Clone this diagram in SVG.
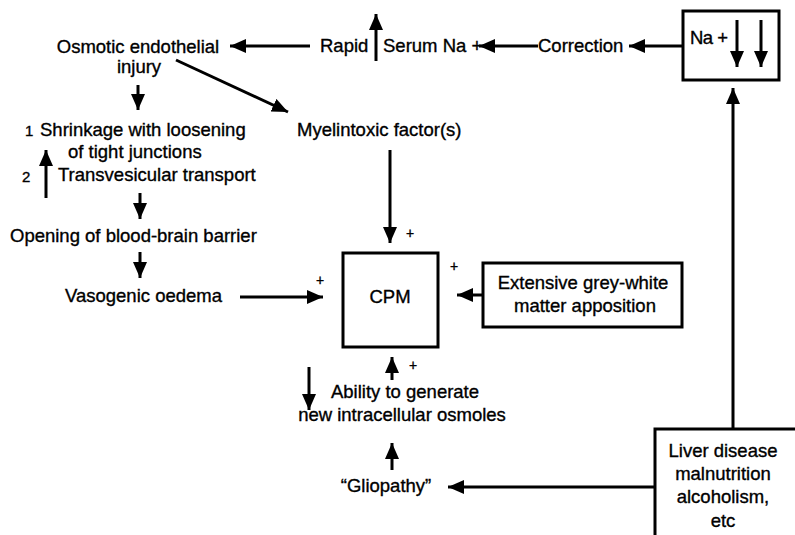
<svg xmlns="http://www.w3.org/2000/svg" width="795" height="535" viewBox="0 0 795 535">
<style>
text{font-family:"Liberation Sans",Arial,sans-serif;font-size:18.5px;fill:#000;stroke:#000;stroke-width:0.35}
.m{text-anchor:middle}
.s{font-size:15px}
.p{font-size:14px;text-anchor:middle}
.box{fill:#fff;stroke:#000;stroke-width:3}
.c line,line.c{stroke:#000;stroke-width:3;marker-end:url(#ah)}
</style>
<defs>
<marker id="ah" markerUnits="userSpaceOnUse" markerWidth="17" markerHeight="15" refX="16" refY="7" orient="auto" viewBox="0 0 17 15">
<path d="M0,0 L16,7 L0,14 z" fill="#000"/>
</marker>
</defs>
<rect width="795" height="535" fill="#fff"/>
<g class="c" id="connectors">
<line x1="310" y1="46" x2="230" y2="46"/>
<line x1="376" y1="61" x2="376" y2="14"/>
<line x1="538" y1="46" x2="479" y2="46"/>
<line x1="682" y1="46" x2="629" y2="46"/>
<line x1="733" y1="429" x2="733" y2="88"/>
<line x1="176" y1="60" x2="288" y2="112"/>
<line x1="138" y1="85" x2="138" y2="110"/>
<line x1="46" y1="198" x2="46" y2="150"/>
<line x1="140" y1="193" x2="140" y2="219"/>
<line x1="140" y1="252" x2="140" y2="278"/>
<line x1="240" y1="297" x2="323" y2="297"/>
<line x1="390" y1="150" x2="390" y2="243"/>
<line x1="483" y1="295" x2="457" y2="295"/>
<line x1="392" y1="380" x2="392" y2="357"/>
<line x1="309" y1="367" x2="309" y2="410"/>
<line x1="392" y1="470" x2="392" y2="443"/>
<line x1="655" y1="487" x2="448" y2="487"/>
</g>
<g id="osmotic"><text class="m" x="138" y="53">Osmotic endothelial</text><text class="m" x="139" y="73">injury</text></g>
<g id="rapid"><text x="320" y="52">Rapid</text></g>
<g id="serum"><text x="383" y="52">Serum Na +</text></g>
<g id="correction"><text x="538" y="52">Correction</text></g>
<g id="na-box"><rect class="box" x="683" y="11" width="96" height="69"/><text x="690" y="44" font-size="17" letter-spacing="-0.5">Na +</text>
<line class="c" x1="737" y1="20" x2="737" y2="67"/><line class="c" x1="761" y1="20" x2="761" y2="67"/></g>
<g id="shrinkage"><text x="25" y="136" class="s">1</text><text x="40" y="136">Shrinkage with loosening</text><text x="68" y="158">of tight junctions</text></g>
<g id="transvesicular"><text x="22" y="182" class="s">2</text><text x="58" y="181">Transvesicular transport</text></g>
<g id="opening"><text x="10" y="242">Opening of blood-brain barrier</text></g>
<g id="vasogenic"><text x="65" y="302">Vasogenic oedema</text></g>
<g id="myelintoxic"><text x="297" y="136">Myelintoxic factor(s)</text></g>
<g id="cpm"><rect class="box" x="343" y="253" width="95" height="94"/><text class="m" x="390" y="303">CPM</text></g>
<g id="plus-signs"><text class="p" x="320" y="285">+</text><text class="p" x="410" y="238">+</text><text class="p" x="454" y="271">+</text><text class="p" x="413" y="370">+</text></g>
<g id="extensive"><rect class="box" x="483" y="263" width="199" height="64"/><text class="m" x="583" y="289">Extensive grey-white</text><text class="m" x="585" y="312">matter apposition</text></g>
<g id="ability"><text class="m" x="405" y="398">Ability to generate</text><text class="m" x="402" y="421">new intracellular osmoles</text></g>
<g id="gliopathy"><text class="m" x="386" y="492">“Gliopathy”</text></g>
<g id="liver"><rect class="box" x="655" y="429" width="150" height="120"/><text class="m" x="723" y="457">Liver disease</text><text class="m" x="723" y="480">malnutrition</text><text class="m" x="723" y="503">alcoholism,</text><text class="m" x="723" y="527">etc</text></g>
</svg>
